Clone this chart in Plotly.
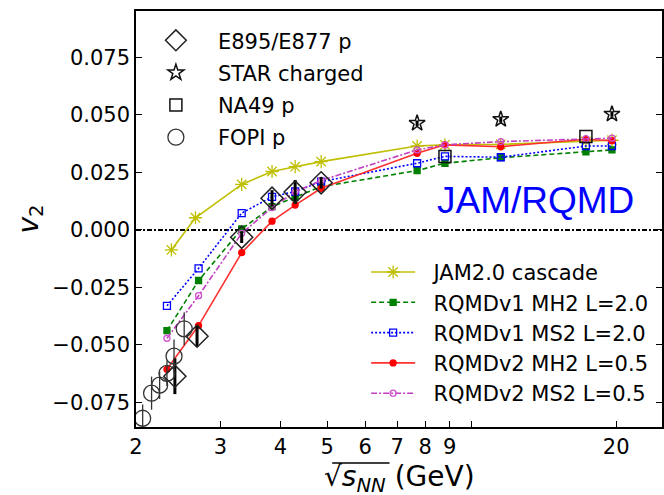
import plotly.graph_objects as go
import math

# ---------------- data ----------------
model_x = [2.32, 2.7, 3.32, 3.84, 4.29, 4.86, 7.7, 8.8, 11.5, 17.3, 19.6]
jam_x = [2.37, 2.66, 3.32, 3.84, 4.29, 4.86, 7.7, 8.8, 11.5, 17.3, 19.6]
jam_y = [-0.0087, 0.0053, 0.0198, 0.0254, 0.0275, 0.0297, 0.0365, 0.0370, 0.0372, 0.0385, 0.0390]
v1_mh2_y = [-0.0438, -0.0220, 0.0004, 0.0101, 0.0143, 0.0188, 0.0258, 0.0290, 0.0314, 0.0340, 0.0348]
v1_ms2_y = [-0.0330, -0.0167, 0.0073, 0.0144, 0.0167, 0.0210, 0.0290, 0.0320, 0.0316, 0.0365, 0.0365]
v2_mh2_y = [-0.0606, -0.0416, -0.0099, 0.0038, 0.0108, 0.0181, 0.0333, 0.0370, 0.0362, 0.0394, 0.0388]
v2_ms2_y = [-0.0471, -0.0286, -0.0015, 0.0097, 0.0166, 0.0215, 0.0348, 0.0370, 0.0384, 0.0397, 0.0399]

e895_x = [2.41, 2.68, 3.32, 3.84, 4.29, 4.86]
e895_y = [-0.0636, -0.0462, -0.0032, 0.0138, 0.0165, 0.0205]
e895_err = [0.0078, 0.0045, 0.0025, 0.0035, 0.0052, 0.0025]

star_x = [7.7, 11.5, 19.6]
star_y = [0.0464, 0.0481, 0.0504]
star_err = [0.0012, 0.0012, 0.0012]

na49_x = [8.8, 17.3]
na49_y = [0.0319, 0.0406]

fopi_x = [2.065, 2.155, 2.24, 2.32, 2.40, 2.52]
fopi_y = [-0.0819, -0.0710, -0.0675, -0.0624, -0.0549, -0.0430]
fopi_err = [0.0060, 0.0072, 0.0060, 0.0055, 0.0072, 0.0072]

x_ticks = [2, 3, 4, 5, 6, 7, 8, 9, 10, 20]
x_ticktext = ["2", "3", "4", "5", "6", "7", "8", "9", "", "20"]
y_ticks = [-0.075, -0.05, -0.025, 0.0, 0.025, 0.05, 0.075]
y_ticktext = ["\u22120.075", "\u22120.050", "\u22120.025", "0.000", "0.025", "0.050", "0.075"]

FONT = "DejaVu Sans"
NB = "\u00a0\u00a0"
fig = go.Figure()

# ---------------- models (legend2) ----------------
models = [
    ("JAM2.0 cascade", jam_x, jam_y, "#bfbf00", "solid", "asterisk-open", 11, "#bfbf00"),
    ("RQMDv1 MH2 L=2.0", model_x, v1_mh2_y, "#008000", "5px,3px", "square", 6, "#008000"),
    ("RQMDv1 MS2 L=2.0", model_x, v1_ms2_y, "#0000ff", "2px,2px", "square-open", 7, "#0000ff"),
    ("RQMDv2 MH2 L=0.5", model_x, v2_mh2_y, "#ff3030", "solid", "circle", 6, "#ff0000"),
    ("RQMDv2 MS2 L=0.5", model_x, v2_ms2_y, "#c040c0", "6px,2px,2px,2px", "circle-open", 6, "#d050d0"),
]
for i, (name, xs, ys, col, dash, sym, sz, mcol) in enumerate(models):
    fig.add_trace(go.Scatter(
        x=xs, y=ys, name=NB + name, mode="lines+markers",
        line=dict(color=col, width=1.6, dash=dash),
        marker=dict(symbol=sym, size=sz, color=mcol, line=dict(color=mcol, width=1.3)),
        legend="legend2", legendgroup="m%d" % i,
    ))

# ---------------- data (legend) ----------------
fig.add_trace(go.Scatter(
    x=e895_x, y=e895_y, name="E895/E877 p", mode="markers",
    marker=dict(symbol="diamond-open", size=17, color="#222222", line=dict(color="#222222", width=1.5)),
    error_y=dict(type="data", array=e895_err, color="#000000", thickness=3, width=0),
    legend="legend", legendgroup="d0",
))
fig.add_trace(go.Scatter(
    x=star_x, y=star_y, name="STAR charged", mode="markers",
    marker=dict(symbol="star-open", size=12, color="#111111", line=dict(color="#111111", width=1.5)),
    error_y=dict(type="data", array=star_err, color="#000000", thickness=3, width=0),
    legend="legend", legendgroup="d1",
))
fig.add_trace(go.Scatter(
    x=na49_x, y=na49_y, name="NA49 p", mode="markers",
    marker=dict(symbol="square-open", size=12, color="#111111", line=dict(color="#111111", width=1.5)),
    legend="legend", legendgroup="d2",
))
fig.add_trace(go.Scatter(
    x=fopi_x, y=fopi_y, name="FOPI p", mode="markers",
    marker=dict(symbol="circle-open", size=16, color="#333333", line=dict(color="#333333", width=1.3)),
    error_y=dict(type="data", array=fopi_err, color="#333333", thickness=1.3, width=0),
    legend="legend", legendgroup="d3",
))

# zero line
fig.add_shape(type="line", xref="paper", yref="y", x0=0, x1=1, y0=0, y1=0,
              line=dict(color="black", width=2, dash="5px,2px,2px,2px"), layer="below")

# x-axis title (as annotation) with radical overline
fig.add_annotation(x=0.5, y=-0.123, xref="paper", yref="paper", xanchor="center", yanchor="middle",
                   text="\u221a<i>s</i><sub><i>NN</i></sub> (GeV)", showarrow=False,
                   font=dict(family=FONT, size=28, color="black"))
fig.add_shape(type="line", xref="paper", yref="paper", x0=0.373, x1=0.482, y0=-0.0865, y1=-0.0865,
              line=dict(color="black", width=1.5))

fig.add_annotation(x=0.76, y=0.0127, xref="paper", yref="y", xanchor="center", yanchor="middle",
                   text="JAM/RQMD", showarrow=False,
                   font=dict(family="Liberation Sans", size=37, color="#0000ff"))

fig.update_layout(
    width=664, height=495,
    margin=dict(l=136, r=0, t=11, b=68),
    plot_bgcolor="white", paper_bgcolor="white",
    font=dict(family=FONT, size=21, color="black"),
    showlegend=True,
    legend=dict(x=-0.004, y=0.978, xanchor="left", yanchor="top", bgcolor="rgba(0,0,0,0)",
                font=dict(family=FONT, size=21), itemwidth=74, traceorder="grouped",
                tracegroupgap=2),
    legend2=dict(x=0.4375, y=0.421, xanchor="left", yanchor="top", bgcolor="rgba(0,0,0,0)",
                 font=dict(family=FONT, size=21), itemwidth=44, traceorder="grouped",
                 tracegroupgap=0),
    xaxis=dict(type="log", range=[math.log10(2), 1.3965], tickvals=x_ticks, ticktext=x_ticktext,
               ticks="inside", ticklen=6, tickwidth=1.3, tickcolor="black",
               showline=True, linecolor="black", linewidth=1.5, mirror=True,
               showgrid=False, zeroline=False, tickfont=dict(family=FONT, size=21)),
    yaxis=dict(range=[-0.0857, 0.0952], tickvals=y_ticks, ticktext=y_ticktext,
               ticks="inside", ticklen=6, tickwidth=1.3, tickcolor="black",
               showline=True, linecolor="black", linewidth=1.5, mirror="ticks",
               showgrid=False, zeroline=False, tickfont=dict(family=FONT, size=21),
               title=dict(text="<i>v</i><sub>2</sub>", font=dict(family=FONT, size=28), standoff=6)),
)

fig.write_html("out.html")
